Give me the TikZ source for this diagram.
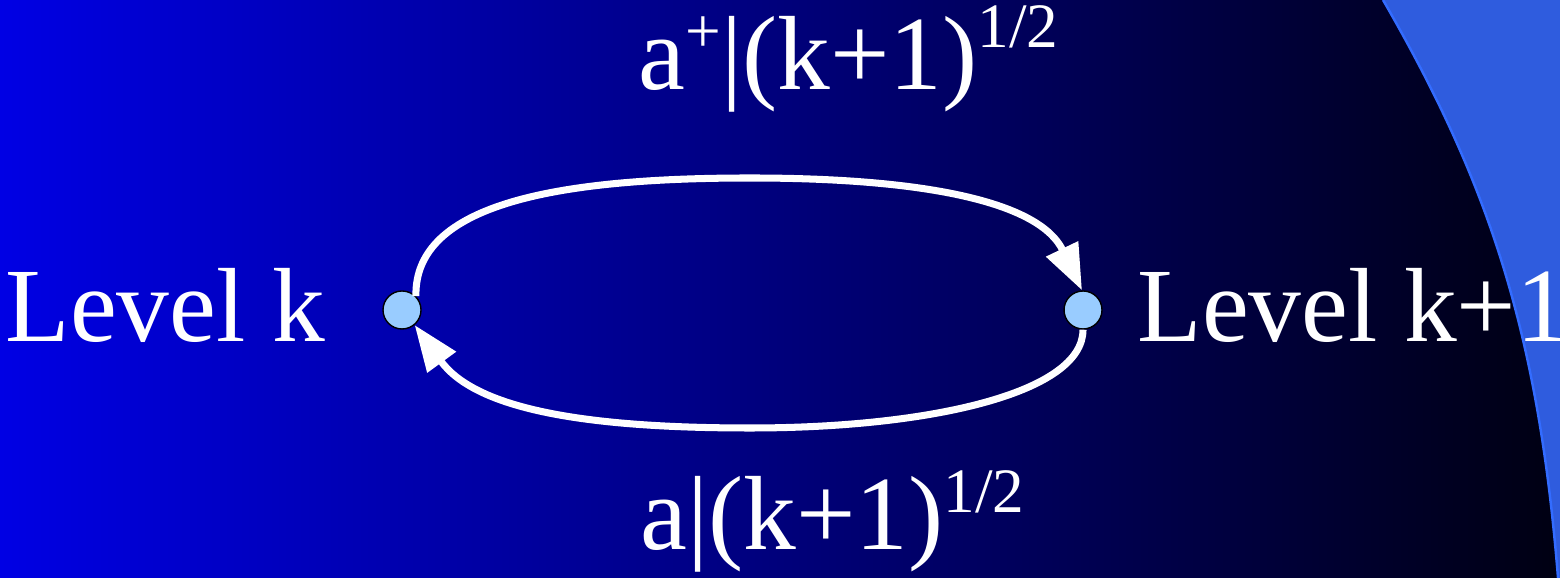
\documentclass[tikz,border=0pt]{standalone}
\usepackage{fontspec}
\setmainfont{Liberation Serif}
\definecolor{bgblue}{RGB}{0,0,228}
\definecolor{bgdark}{RGB}{0,0,18}
\definecolor{cornerblue}{RGB}{47,92,222}
\definecolor{edgeblue}{RGB}{51,108,255}
\definecolor{dotblue}{RGB}{153,204,255}
\usetikzlibrary{arrows.meta,positioning}
\newcommand{\lvlsup}[2]{\raisebox{#1}{\fontsize{18}{18}\selectfont #2}}

\begin{document}
\begin{tikzpicture}[
    lvldot/.style={circle, draw=black, line width=0.4pt, fill=dotblue,
                minimum size=0.38cm, inner sep=0pt},
    lvltext/.style={text=white, font=\fontsize{30}{36}\selectfont,
                inner sep=0pt, anchor=base west},
    trans/.style={draw=white, line width=2pt,
                -{Triangle[length=0.46cm,width=0.34cm]}}
  ]
    \useasboundingbox (0,0) rectangle (15.6,5.78);
    \shade[left color=bgblue, right color=bgdark] (0,0) rectangle (15.6,5.78);
    % corner piece
    \fill[cornerblue] (13.83,5.8) -- (13.83,5.78) .. controls (14.87,3.98) and (15.38,2.5) .. (15.58,0)
      -- (15.62,0) -- (15.62,5.8) -- cycle;
    \draw[edgeblue, line width=0.7pt] (13.83,5.78) .. controls (14.87,3.98) and (15.38,2.5) .. (15.58,0);

    \node[lvldot] (lk)  at (4.02,2.68) {};
    \node[lvldot] (lk1) at (10.83,2.68) {};

    \node[lvltext] (lktext)  at (0.05,2.36) {Level k};
    \node[lvltext] (lk1text) at (11.37,2.36) {Level k+1};
    \node[lvltext] (uplabel)   at (6.38,4.88)
      {a\lvlsup{0.37cm}{+}|(k+1)\lvlsup{0.42cm}{1/2}};
    \node[lvltext] (downlabel) at (6.40,0.28)
      {a|(k+1)\lvlsup{0.37cm}{1/2}};

    \draw[trans] (lk.45) .. controls (4.14,3.75) and (5.6,4.0) .. (7.5,4.0)
      .. controls (9.3,4.0) and (10.4,3.75) .. (lk1.93);
    \draw[trans] (lk1.south) .. controls (10.83,1.85) and (9.3,1.5) .. (7.5,1.5)
      .. controls (5.8,1.5) and (4.75,1.7) .. (lk.-50);
  \end{tikzpicture}
\end{document}
